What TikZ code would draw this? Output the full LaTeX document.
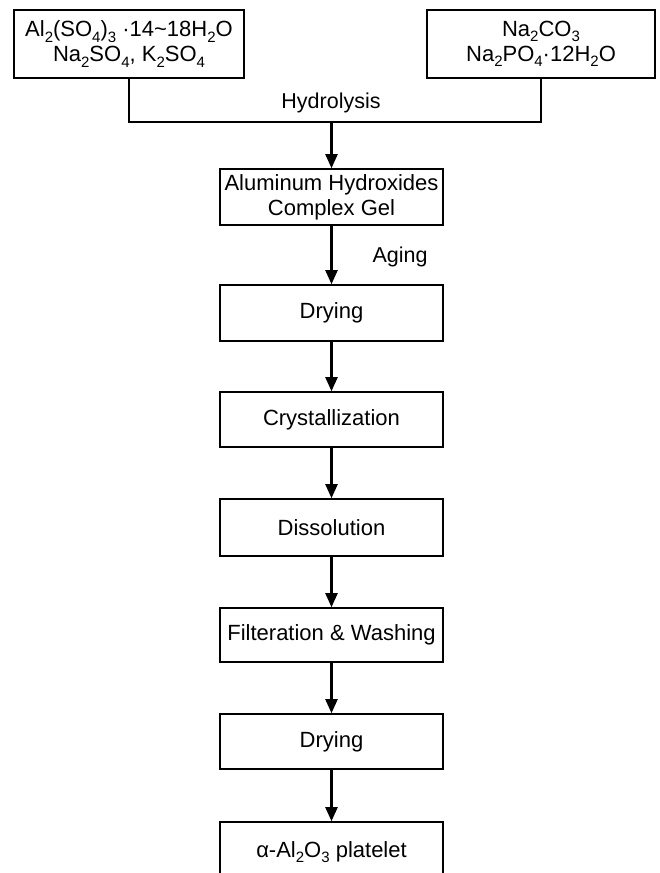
\documentclass[tikz,border=0pt]{standalone}
\usepackage{fontspec}
\setmainfont{Liberation Sans}
\usetikzlibrary{arrows.meta}
\newcommand{\dn}[1]{\raisebox{-0.45ex}{\fontsize{15}{15}\selectfont #1}}
\begin{document}
\begin{tikzpicture}[x=1pt,y=-1pt,
  box/.style={draw, line width=1.6pt, rectangle, minimum width=223pt, minimum height=55pt,
    inner sep=0pt, align=center, font=\fontsize{22}{25}\selectfont},
  lbl/.style={inner sep=0pt, font=\fontsize{21.5}{25}\selectfont},
  arr/.style={line width=2.2pt, -{Triangle[length=14pt,width=12pt]}},
  link/.style={line width=1.8pt}]
\useasboundingbox (0,0) rectangle (660,873);
\clip (0,0) rectangle (660,873);
\node[box, minimum width=230pt, minimum height=68pt] (L) at (129,44)
  {Al\dn{2}(SO\dn{4})\dn{3} ·14\textasciitilde18H\dn{2}O\\Na\dn{2}SO\dn{4}, K\dn{2}SO\dn{4}};
\node[box, minimum width=228pt, minimum height=68pt] (R) at (541,44)
  {Na\dn{2}CO\dn{3}\\Na\dn{2}PO\dn{4}·12H\dn{2}O};
\node[box, minimum height=56pt] (gel) at (331.5,197) {Aluminum Hydroxides\\Complex Gel};
\node[box, minimum height=56pt] (dry1) at (331.5,313) {Drying};
\node[box] (cry) at (331.5,419.5) {Crystallization};
\node[box, minimum height=57pt] (dis) at (331.5,527.5) {Dissolution};
\node[box, minimum height=54pt] (fil) at (331.5,635) {Filteration \& Washing};
\node[box] (dry2) at (331.5,741.5) {Drying};
\node[box, minimum height=60pt] (pl) at (331.5,852) {α-Al\dn{2}O\dn{3} platelet};
\coordinate (j) at (331.5,122);
\draw[link] (L.south) |- (j) -| (R.south);
\node[lbl] (hyd) at (331,103) {Hydrolysis};
\node[lbl] (age) at (400,257) {Aging};
\draw[arr] (j) -- (gel.north);
\draw[arr] (gel) -- (dry1);
\draw[arr] (dry1) -- (cry);
\draw[arr] (cry) -- (dis);
\draw[arr] (dis) -- (fil);
\draw[arr] (fil) -- (dry2);
\draw[arr] (dry2) -- (pl);
\end{tikzpicture}
\end{document}
